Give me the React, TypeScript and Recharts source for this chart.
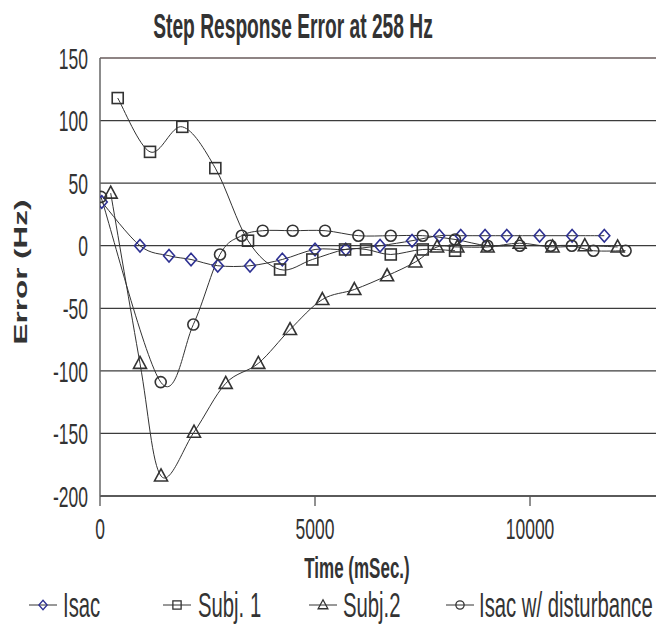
import React from 'react';
import { LineChart, Line, XAxis, YAxis, CartesianGrid, ReferenceLine } from 'recharts';

// ---- data ----
const isacT = [40, 930, 1605, 2117, 2738, 3489, 4240, 5001, 5715, 6513, 7257, 7892, 8390, 8955, 9460, 10223, 10979, 11728];
const isacV = [35, 0, -8, -11, -16, -16, -11, -3, -3, 0, 4, 8, 8, 8, 8, 8, 8, 8];
const subj1T = [412, 1163, 1914, 2682, 3442, 4187, 4938, 5699, 6187, 6762, 7506, 8257];
const subj1V = [118, 75, 95, 62, 4, -19, -11, -3, -3, -7, -3, -4];
const subj2T = [249, 930, 1419, 2186, 2924, 3682, 4419, 5171, 5915, 6676, 7334, 7839, 8311, 9014, 9758, 10525, 11274, 12037];
const subj2V = [42, -94, -184, -149, -110, -94, -67, -43, -35, -24, -13, -1, -1, -1, 2, -1, 0, -1];
const distT = [23, 1412, 2170, 2791, 3296, 3784, 4482, 5234, 6008, 6762, 7506, 8257, 9009, 9762, 10483, 10972, 11474, 12223];
const distV = [39, -109, -63, -7, 8, 12, 12, 12, 8, 8, 8, 5, 0, 0, 0, 0, -4, -4];

const seriesNames = ['Isac', 'Subj. 1', 'Subj.2', 'Isac w/ disturbance'];
const yTicks = [-200, -150, -100, -50, 0, 50, 100, 150];
const xTicks = [0, 5000, 10000];
const titleText = 'Step Response Error at 258 Hz';
const xTitle = 'Time (mSec.)';
const yTitle = 'Error (Hz)';

const zip = (t: number[], v: number[]) => t.map((tt, i) => ({ t: tt, v: v[i] }));

const series = [
  { name: seriesNames[0], data: zip(isacT, isacV), shape: 'diamond', color: '#2e3192' },
  { name: seriesNames[1], data: zip(subj1T, subj1V), shape: 'square', color: '#333333' },
  { name: seriesNames[2], data: zip(subj2T, subj2V), shape: 'triangle', color: '#333333' },
  { name: seriesNames[3], data: zip(distT, distV), shape: 'circle', color: '#333333' },
];

// ---- styling ----
const SY = 1.7;
const FONT = '"Liberation Sans", Arial, Helvetica, sans-serif';
const TXT = '#333333';

// Excel-like smoothed line (Catmull-Rom as cubic Bezier)
const excelSmooth = (context: any) => {
  let pts: number[][] = [];
  return {
    areaStart() {},
    areaEnd() {},
    lineStart() {
      pts = [];
    },
    lineEnd() {
      const n = pts.length;
      if (!n) return;
      context.moveTo(pts[0][0], pts[0][1]);
      for (let i = 0; i < n - 1; i++) {
        const p0 = pts[i > 0 ? i - 1 : i];
        const p1 = pts[i];
        const p2 = pts[i + 1];
        const p3 = pts[i + 2 < n ? i + 2 : i + 1];
        context.bezierCurveTo(
          p1[0] + (p2[0] - p0[0]) / 6,
          p1[1] + (p2[1] - p0[1]) / 6,
          p2[0] - (p3[0] - p1[0]) / 6,
          p2[1] - (p3[1] - p1[1]) / 6,
          p2[0],
          p2[1]
        );
      }
    },
    point(x: number, y: number) {
      pts.push([+x, +y]);
    },
  };
};

function Marker({ shape, cx, cy, s = 1, color, sw = 1.6 }: any) {
  if (cx == null || cy == null) return null;
  const common = { fill: 'none', stroke: color, strokeWidth: sw };
  if (shape === 'diamond') {
    const w = 5.5 * s, h = 6.3 * s;
    return <polygon points={`${cx},${cy - h} ${cx + w},${cy} ${cx},${cy + h} ${cx - w},${cy}`} {...common} />;
  }
  if (shape === 'square') {
    const a = 5.5 * s;
    return <rect x={cx - a} y={cy - a} width={2 * a} height={2 * a} {...common} />;
  }
  if (shape === 'triangle') {
    const w = 6.5 * s, up = 7 * s, dn = 5 * s;
    return <polygon points={`${cx},${cy - up} ${cx + w},${cy + dn} ${cx - w},${cy + dn}`} {...common} />;
  }
  return <circle cx={cx} cy={cy} r={5.5 * s} {...common} />;
}

function T({ x, y, size, bold, anchor = 'start', rotate = false, sy = SY, children }: any) {
  return (
    <text
      transform={`translate(${x},${y}) scale(1,${sy})${rotate ? ' rotate(-90)' : ''}`}
      fontSize={size}
      fontWeight={bold ? 700 : 400}
      textAnchor={anchor}
      fontFamily={FONT}
      fill={TXT}
    >
      {children}
    </text>
  );
}

const TICK_FS = 17.5;
const YTick = (props: any) => {
  const { x, y, payload } = props;
  return <T x={x} y={y + (0.716 * TICK_FS * SY) / 2} size={TICK_FS} anchor="end">{payload.value}</T>;
};
const XTick = (props: any) => {
  const { x, y, payload } = props;
  return <T x={x} y={y + 0.716 * TICK_FS * SY} size={TICK_FS} anchor="middle">{payload.value}</T>;
};

// legend layout
const legendLayout = [
  { x1: 29, x2: 57, text: 63 },
  { x1: 163, x2: 191, text: 198 },
  { x1: 309, x2: 337, text: 343 },
  { x1: 446, x2: 474, text: 479 },
];
const LEG_FS = 20.3;
const LEG_Y = 605;

export default function App() {
  return (
    <div style={{ position: 'absolute', left: 0, top: 0, width: 656, height: 625, background: '#fff' }}>
      <LineChart width={656} height={625} margin={{ top: 58, right: 0, bottom: 89, left: 8 }}>
        <CartesianGrid horizontal vertical={false} stroke="#3c3c3c" strokeWidth={1.3} />
        <XAxis
          type="number"
          dataKey="t"
          domain={[0, 12930]}
          ticks={xTicks}
          allowDataOverflow
          height={40}
          tickSize={10}
          tickMargin={12}
          tick={XTick}
          axisLine={{ stroke: '#555', strokeWidth: 1.5 }}
          tickLine={{ stroke: '#555', strokeWidth: 1.3 }}
        />
        <YAxis
          type="number"
          dataKey="v"
          domain={[-200, 150]}
          ticks={yTicks}
          allowDataOverflow
          width={92}
          tickSize={6}
          tickMargin={6}
          tick={YTick}
          tickLine={false}
          axisLine={{ stroke: '#666', strokeWidth: 1.5 }}
        />
        <ReferenceLine y={150} stroke="#9a8c8c" strokeWidth={1.5} />
        {series.map((s) => (
          <Line
            key={s.name}
            name={s.name}
            data={s.data}
            dataKey="v"
            type={excelSmooth as any}
            stroke="#333"
            strokeWidth={1}
            isAnimationActive={false}
            activeDot={false}
            dot={(p: any) => <Marker key={`${s.name}-${p.index}`} shape={s.shape} cx={p.cx} cy={p.cy} color={s.color} />}
          />
        ))}
      </LineChart>
      <svg width={656} height={625} style={{ position: 'absolute', left: 0, top: 0, pointerEvents: 'none' }}>
        <T x={293} y={38} size={19.2} bold anchor="middle" sy={1.85}>{titleText}</T>
        <T x={357} y={578} size={17} bold anchor="middle">{xTitle}</T>
        <T x={27} y={272} size={18.5} bold anchor="middle" rotate>{yTitle}</T>
        {series.map((s, i) => {
          const L = legendLayout[i];
          const cx = (L.x1 + L.x2) / 2;
          return (
            <g key={s.name}>
              <line x1={L.x1} x2={L.x2} y1={LEG_Y} y2={LEG_Y} stroke="#333" strokeWidth={1} />
              <Marker shape={s.shape} cx={cx} cy={LEG_Y} s={0.75} color={s.color} sw={1.3} />
              <T x={L.text} y={LEG_Y + (0.716 * LEG_FS * SY) / 2} size={LEG_FS}>{s.name}</T>
            </g>
          );
        })}
      </svg>
    </div>
  );
}
